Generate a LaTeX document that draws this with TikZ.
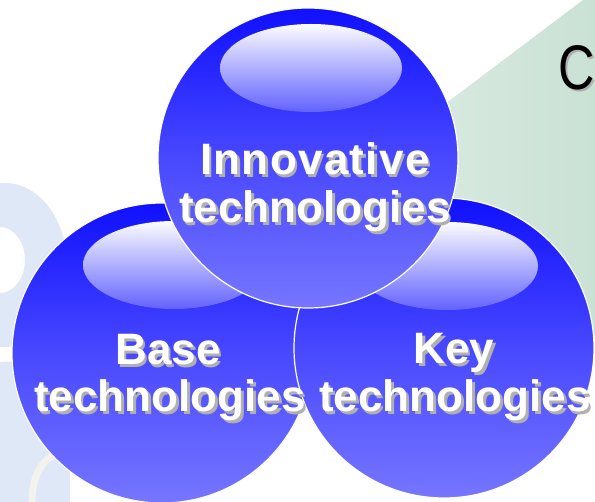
\documentclass[tikz,border=0pt]{standalone}
\usepackage{fontspec}
\setmainfont{Liberation Sans}
\usetikzlibrary{shapes.geometric}

\definecolor{balltop}{HTML}{1010FF}
\definecolor{ballmid}{HTML}{4848FF}
\definecolor{ballbot}{HTML}{7676FF}
\definecolor{glosstop}{HTML}{FCFCFF}
\definecolor{glossbot}{HTML}{6262FF}
\definecolor{mintL}{HTML}{DDECE4}
\definecolor{mintR}{HTML}{CAE1D5}
\definecolor{paleblue}{HTML}{DFE8F6}
\definecolor{cream}{HTML}{F4F2EC}
\definecolor{shadowgray}{HTML}{B0B0B0}

\tikzset{
  ball/.style={circle, minimum size=300pt, inner sep=0pt, draw=white, line width=1.2pt,
    top color=balltop, bottom color=ballbot, middle color=ballmid},
  gloss/.style={ellipse, minimum width=182pt, minimum height=88pt, inner sep=0pt,
    top color=glosstop, bottom color=glossbot},
  word/.style={anchor=base, inner sep=0pt, text=white, font=\bfseries\fontsize{44}{48}\selectfont},
  wordshadow/.style={word, text=shadowgray},
}

% white text with a grey copy behind it: name, position, text
\newcommand\shadowword[3]{%
  \node[wordshadow] (#1-s) at ([shift={(2.5,2.5)}]#2) {#3};
  \node[word] (#1) at (#2) {#3};}

\begin{document}
\begin{tikzpicture}[x=1pt, y=-1pt]
    \useasboundingbox (0,0) rectangle (595,502);
    \fill[white] (0,0) rectangle (595,502);

    % faded logo on the left
    \fill[paleblue, even odd rule] (5,265) ellipse [x radius=62, y radius=82]
        (0,260) ellipse [x radius=25, y radius=33];
    \fill[paleblue] (0,502) -- (0,362) .. controls (30,358) and (60,380) .. (70,420) -- (70,502) -- cycle;
    \draw[cream, line width=7pt] (32,502) .. controls (32,472) and (45,456) .. (62,452);

    % mint panel behind the balls
    \shade[left color=mintL, right color=mintR] (583,0) -- (595,0) -- (595,335) -- (380,335) -- (380,153) -- cycle;

    % title letter
    \node[text=shadowgray, anchor=base, inner sep=0pt, font=\fontsize{63}{70}\selectfont,
        xscale=0.8, transform shape] (title-s) at (579,92) {C};
    \node[text=black, anchor=base, inner sep=0pt, font=\fontsize{63}{70}\selectfont,
        xscale=0.8, transform shape] (title) at (577,90) {C};

    % the three balls, bottom ones first
    \node[ball] (base) at (162,353) {};
    \node[gloss] (baseglow) at ([shift={(12,-88)}]base.center) {};
    \node[ball] (key) at (444,348) {};
    \node[gloss] (keyglow) at ([shift={(3,-82)}]key.center) {};
    \node[ball] (innov) at (308,158) {};
    \node[gloss] (innovglow) at ([shift={(3,-90)}]innov.center) {};

    % labels
    \shadowword{innovA}{315,175}{\addfontfeature{LetterSpace=3}Innovative}
    \shadowword{innovB}{315,223}{technologies}
    \shadowword{baseA}{168,365}{Base}
    \shadowword{baseB}{170,412}{technologies}
    \shadowword{keyA}{454,364}{Key}
    \shadowword{keyB}{455,412}{technologies}
\end{tikzpicture}
\end{document}
